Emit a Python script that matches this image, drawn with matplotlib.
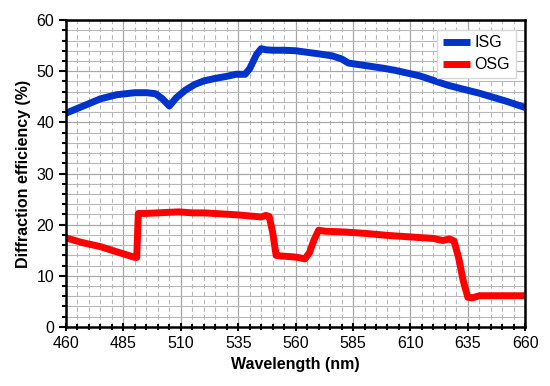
import numpy as np
import matplotlib
matplotlib.use("Agg")
import matplotlib.pyplot as plt
from matplotlib.ticker import MultipleLocator, FixedLocator

plt.rcParams['font.family'] = ['Liberation Sans', 'DejaVu Sans']

# ISG curve
isg_wl = [460, 467, 475, 482, 490, 495, 499, 502, 505, 508, 512, 516, 520, 525,
          530, 534, 538, 540, 543, 545, 547, 550, 555, 560, 565, 570, 576, 580,
          583, 586, 592, 598, 603, 609, 614, 620, 626, 632, 640, 646, 652, 660]
isg_eff = [41.8, 43.1, 44.6, 45.4, 45.8, 45.8, 45.6, 44.6, 43.2, 44.8, 46.3, 47.4,
           48.1, 48.6, 49.0, 49.4, 49.4, 50.5, 53.3, 54.4, 54.2, 54.1, 54.1, 54.0,
           53.7, 53.4, 53.0, 52.4, 51.6, 51.4, 51.0, 50.6, 50.2, 49.6, 49.1, 48.2,
           47.3, 46.6, 45.7, 44.9, 44.1, 42.9]

# OSG curve
osg_wl = [460, 467, 475, 482, 490, 490.8, 491.5, 495, 500, 509, 515, 520, 528,
          535, 540, 545, 547, 548.5, 550, 551.5, 553, 559, 562, 564, 566, 568,
          570, 573, 580, 590, 600, 610, 620, 624, 627, 629, 631, 633, 635, 637,
          640, 650, 660]
osg_eff = [17.4, 16.5, 15.7, 14.7, 13.6, 13.6, 22.2, 22.2, 22.3, 22.5, 22.3, 22.3,
           22.1, 21.9, 21.7, 21.5, 21.8, 21.6, 18.5, 14.0, 13.9, 13.7, 13.5, 13.3,
           14.5, 17.0, 18.9, 18.7, 18.6, 18.3, 17.9, 17.6, 17.3, 16.9, 17.2, 16.8,
           13.5, 9.0, 5.8, 5.7, 6.1, 6.1, 6.1]

x_ticks = np.arange(460, 661, 25)

fig = plt.figure(figsize=(5.5, 3.86), dpi=100)
ax = fig.add_axes([0.12, 0.153, 0.835, 0.795])

ax.plot(isg_wl, isg_eff, color='#0033cc', lw=5, label='ISG', solid_capstyle='butt')
ax.plot(osg_wl, osg_eff, color='#ff0000', lw=5, label='OSG', solid_capstyle='butt')

ax.set_xlim(460, 660)
ax.set_ylim(0, 60)
ax.xaxis.set_major_locator(FixedLocator(x_ticks))
ax.xaxis.set_minor_locator(MultipleLocator(5))
ax.yaxis.set_major_locator(MultipleLocator(10))
ax.yaxis.set_minor_locator(MultipleLocator(2))

ax.grid(which='major', color='#a8a8a8', lw=0.9, ls='-')
ax.grid(which='minor', axis='y', color='#b8b8b8', lw=0.8, ls='-')
ax.grid(which='minor', axis='x', color='#b8b8b8', lw=0.8, ls=(0, (4, 3)))
ax.set_axisbelow(True)

for s in ax.spines.values():
    s.set_linewidth(1.8)
ax.tick_params(axis='x', which='both', direction='inout', width=1.5, labelsize=11.5)
ax.tick_params(axis='x', which='major', length=6)
ax.tick_params(axis='x', which='minor', length=5)
ax.tick_params(axis='y', which='both', direction='out', width=1.5, labelsize=11.5)
ax.tick_params(axis='y', which='major', length=5)
ax.tick_params(axis='y', which='minor', length=3)

ax.set_xlabel('Wavelength (nm)', fontsize=11.5, fontweight='bold')
ax.set_ylabel('Diffraction efficiency (%)', fontsize=11.5, fontweight='bold')

leg = ax.legend(loc='upper right', fontsize=11.5, fancybox=False, framealpha=1,
                edgecolor='#d8d8d8', handlelength=1.7, handletextpad=0.3,
                labelspacing=0.45, borderpad=0.35, borderaxespad=0.6)

fig.savefig('out.png', dpi=100)
